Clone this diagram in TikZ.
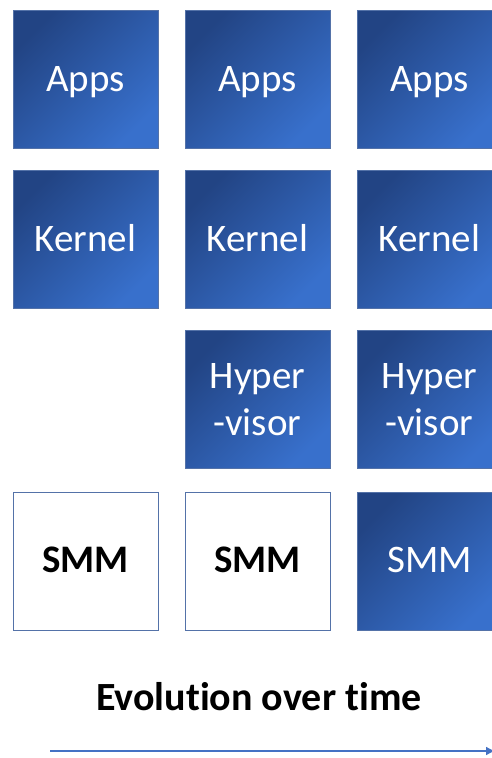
\documentclass[tikz,border=0pt]{standalone}
\usepackage{fontspec}
\setmainfont[Ligatures=NoCommon]{Carlito}
\usetikzlibrary{arrows.meta}
\definecolor{bdark}{RGB}{34,68,132}
\definecolor{blight}{RGB}{56,112,204}
\definecolor{bedge}{RGB}{84,114,168}
\definecolor{arrowc}{RGB}{68,114,196}
\tikzset{
  boxbase/.style={draw=bedge, line width=0.8pt, minimum width=145pt, minimum height=138pt,
    inner sep=0pt, align=center, text height=25pt, text depth=0pt},
  bluebox/.style={boxbase, shading=axis, top color=bdark, bottom color=blight, shading angle=45,
    text=white, font=\fontsize{39}{47}\selectfont},
  whitebox/.style={boxbase, fill=white, text=black, font=\fontsize{39}{47}\selectfont\bfseries},
  twoline/.style={text height=72pt},
  smmtext/.style={text height=22pt},
}
\begin{document}
\begin{tikzpicture}[x=1pt,y=-1pt]
\useasboundingbox (0,0) rectangle (491,758);
% column 1
\node[bluebox] (a1) at (85.5,79) {Apps};
\node[bluebox] (k1) at (85.5,239) {Kernel};
\node[whitebox, smmtext] (s1) at (85.5,561) {SMM};
% column 2
\node[bluebox] (a2) at (257.5,79) {Apps};
\node[bluebox] (k2) at (257.5,239) {Kernel};
\node[bluebox, twoline] (h2) at (257.5,399.5) {Hyper\\-visor};
\node[whitebox, smmtext] (s2) at (257.5,561) {SMM};
% column 3
\node[bluebox] (a3) at (429.5,79) {Apps};
\node[bluebox] (k3) at (429.5,239) {Kernel};
\node[bluebox, twoline] (h3) at (429.5,399.5) {Hyper\\-visor};
\node[bluebox, smmtext] (s3) at (429.5,561) {SMM};
% caption and arrow
\node[font=\fontsize{40}{47}\selectfont\bfseries, text height=25pt, text depth=0pt, inner sep=0pt] (cap) at (259,697.5) {Evolution over time};
\coordinate (t0) at (50,751);
\coordinate (t1) at (494,751);
\draw[arrowc, line width=1.3pt, -{Triangle[length=8pt,width=8pt]}] (t0) -- (t1);
\end{tikzpicture}
\end{document}
